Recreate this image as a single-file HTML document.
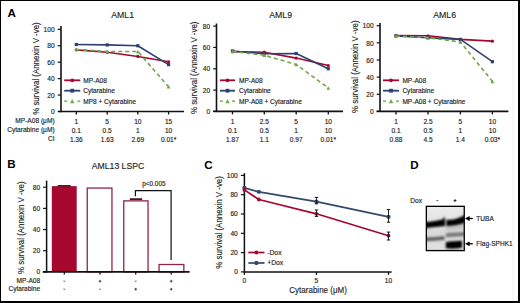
<!DOCTYPE html>
<html><head><meta charset="utf-8"><style>
html,body{margin:0;padding:0;background:#fff;}
svg{display:block;font-family:"Liberation Sans",sans-serif;}
</style></head><body>
<svg width="520" height="303" viewBox="0 0 520 303">
<rect width="520" height="303" fill="#fff"/>
<text x="7.4" y="17.1" font-size="11.6" text-anchor="start" font-weight="bold" fill="#000" >A</text>
<text x="54.6" y="122.8" font-size="6.6" text-anchor="end" font-weight="normal" fill="#1e1e1e" stroke="#1e1e1e" stroke-width="0.15" >MP-A08 (μM)</text>
<text x="54.6" y="132.0" font-size="6.6" text-anchor="end" font-weight="normal" fill="#1e1e1e" stroke="#1e1e1e" stroke-width="0.15" >Cytarabine (μM)</text>
<text x="54.6" y="141.1" font-size="6.6" text-anchor="end" font-weight="normal" fill="#1e1e1e" stroke="#1e1e1e" stroke-width="0.15" >CI</text>
<line x1="61" y1="26" x2="61" y2="112.2" stroke="#111" stroke-width="1.6" />
<line x1="57.7" y1="111.5" x2="61" y2="111.5" stroke="#111" stroke-width="1.2" />
<text x="54.6" y="114.2" font-size="6.6" text-anchor="end" font-weight="normal" fill="#1e1e1e" stroke="#1e1e1e" stroke-width="0.15" >0</text>
<line x1="57.7" y1="95.06" x2="61" y2="95.06" stroke="#111" stroke-width="1.2" />
<text x="54.6" y="97.76" font-size="6.6" text-anchor="end" font-weight="normal" fill="#1e1e1e" stroke="#1e1e1e" stroke-width="0.15" >20</text>
<line x1="57.7" y1="78.62" x2="61" y2="78.62" stroke="#111" stroke-width="1.2" />
<text x="54.6" y="81.32" font-size="6.6" text-anchor="end" font-weight="normal" fill="#1e1e1e" stroke="#1e1e1e" stroke-width="0.15" >40</text>
<line x1="57.7" y1="62.18" x2="61" y2="62.18" stroke="#111" stroke-width="1.2" />
<text x="54.6" y="64.88" font-size="6.6" text-anchor="end" font-weight="normal" fill="#1e1e1e" stroke="#1e1e1e" stroke-width="0.15" >60</text>
<line x1="57.7" y1="45.74" x2="61" y2="45.74" stroke="#111" stroke-width="1.2" />
<text x="54.6" y="48.44" font-size="6.6" text-anchor="end" font-weight="normal" fill="#1e1e1e" stroke="#1e1e1e" stroke-width="0.15" >80</text>
<line x1="57.7" y1="29.3" x2="61" y2="29.3" stroke="#111" stroke-width="1.2" />
<text x="54.6" y="32" font-size="6.6" text-anchor="end" font-weight="normal" fill="#1e1e1e" stroke="#1e1e1e" stroke-width="0.15" >100</text>
<line x1="58.3" y1="111.5" x2="184" y2="111.5" stroke="#111" stroke-width="1.6" />
<line x1="76.3" y1="111.5" x2="76.3" y2="114.5" stroke="#111" stroke-width="1.3" />
<line x1="107.2" y1="111.5" x2="107.2" y2="114.5" stroke="#111" stroke-width="1.3" />
<line x1="137.8" y1="111.5" x2="137.8" y2="114.5" stroke="#111" stroke-width="1.3" />
<line x1="168.6" y1="111.5" x2="168.6" y2="114.5" stroke="#111" stroke-width="1.3" />
<text transform="translate(122.6,17.5) scale(0.94,1)" font-size="9.3" text-anchor="middle" fill="#1e1e1e" stroke="#1e1e1e" stroke-width="0.15">AML1</text>
<text transform="translate(39.0,68.55) rotate(-90) scale(0.93,1)" font-size="8.5" text-anchor="middle" fill="#1e1e1e" stroke="#1e1e1e" stroke-width="0.15">% survival (Annexin V -ve)</text>
<polyline points="76.3,49.85 107.2,52.32 137.8,56.43 168.6,61.77" fill="none" stroke="#a6072f" stroke-width="1.6" stroke-linejoin="round"/>
<circle cx="76.3" cy="49.85" r="1.6" fill="#a6072f"/>
<circle cx="107.2" cy="52.32" r="1.6" fill="#a6072f"/>
<circle cx="137.8" cy="56.43" r="1.6" fill="#a6072f"/>
<circle cx="168.6" cy="61.77" r="1.6" fill="#a6072f"/>
<polyline points="76.3,44.51 107.2,44.92 137.8,45.74 168.6,64.65" fill="none" stroke="#2b4170" stroke-width="1.6" stroke-linejoin="round"/>
<rect x="74.7" y="42.91" width="3.2" height="3.2" fill="#2b4170"/>
<rect x="105.6" y="43.32" width="3.2" height="3.2" fill="#2b4170"/>
<rect x="136.2" y="44.14" width="3.2" height="3.2" fill="#2b4170"/>
<rect x="167.0" y="63.05" width="3.2" height="3.2" fill="#2b4170"/>
<polyline points="76.3,49.44 107.2,51.49 137.8,51.49 168.6,86.84" fill="none" stroke="#71a549" stroke-width="1.6" stroke-dasharray="4,3" stroke-linejoin="round"/>
<polygon points="74.38,51.2 78.22,51.2 76.3,47.68" fill="#71a549"/>
<polygon points="105.28,53.25 109.12,53.25 107.2,49.73" fill="#71a549"/>
<polygon points="135.88,53.25 139.72,53.25 137.8,49.73" fill="#71a549"/>
<polygon points="166.68,88.6 170.52,88.6 168.6,85.08" fill="#71a549"/>
<line x1="64.2" y1="80.3" x2="80.3" y2="80.3" stroke="#a6072f" stroke-width="1.8" />
<circle cx="72.25" cy="80.3" r="1.9" fill="#a6072f"/>
<text x="83.2" y="82.6" font-size="6.55" text-anchor="start" font-weight="normal" fill="#1e1e1e" stroke="#1e1e1e" stroke-width="0.15" >MP-A08</text>
<line x1="64.2" y1="90.7" x2="80.3" y2="90.7" stroke="#2b4170" stroke-width="1.8" />
<rect x="70.35" y="88.8" width="3.8" height="3.8" fill="#2b4170"/>
<text x="83.2" y="93.0" font-size="6.55" text-anchor="start" font-weight="normal" fill="#1e1e1e" stroke="#1e1e1e" stroke-width="0.15" >Cytarabine</text>
<line x1="64.2" y1="101.2" x2="67.2" y2="101.2" stroke="#8cbb6a" stroke-width="1.8" />
<line x1="77.3" y1="101.2" x2="80.3" y2="101.2" stroke="#8cbb6a" stroke-width="1.8" />
<polygon points="69.97,103.29 74.53,103.29 72.25,99.11" fill="#76a852"/>
<text x="83.2" y="103.5" font-size="6.55" text-anchor="start" font-weight="normal" fill="#1e1e1e" stroke="#1e1e1e" stroke-width="0.15" >MP8 + Cytarabine</text>
<text x="76.3" y="123.6" font-size="6.6" text-anchor="middle" font-weight="normal" fill="#1e1e1e" stroke="#1e1e1e" stroke-width="0.15" >1</text>
<text x="107.2" y="123.6" font-size="6.6" text-anchor="middle" font-weight="normal" fill="#1e1e1e" stroke="#1e1e1e" stroke-width="0.15" >5</text>
<text x="137.8" y="123.6" font-size="6.6" text-anchor="middle" font-weight="normal" fill="#1e1e1e" stroke="#1e1e1e" stroke-width="0.15" >10</text>
<text x="168.6" y="123.6" font-size="6.6" text-anchor="middle" font-weight="normal" fill="#1e1e1e" stroke="#1e1e1e" stroke-width="0.15" >15</text>
<text x="76.3" y="132.8" font-size="6.6" text-anchor="middle" font-weight="normal" fill="#1e1e1e" stroke="#1e1e1e" stroke-width="0.15" >0.1</text>
<text x="107.2" y="132.8" font-size="6.6" text-anchor="middle" font-weight="normal" fill="#1e1e1e" stroke="#1e1e1e" stroke-width="0.15" >0.5</text>
<text x="137.8" y="132.8" font-size="6.6" text-anchor="middle" font-weight="normal" fill="#1e1e1e" stroke="#1e1e1e" stroke-width="0.15" >1</text>
<text x="168.6" y="132.8" font-size="6.6" text-anchor="middle" font-weight="normal" fill="#1e1e1e" stroke="#1e1e1e" stroke-width="0.15" >10</text>
<text x="76.3" y="141.5" font-size="6.6" text-anchor="middle" font-weight="normal" fill="#1e1e1e" stroke="#1e1e1e" stroke-width="0.15" >1.36</text>
<text x="107.2" y="141.5" font-size="6.6" text-anchor="middle" font-weight="normal" fill="#1e1e1e" stroke="#1e1e1e" stroke-width="0.15" >1.63</text>
<text x="137.8" y="141.5" font-size="6.6" text-anchor="middle" font-weight="normal" fill="#1e1e1e" stroke="#1e1e1e" stroke-width="0.15" >2.69</text>
<text x="168.6" y="141.5" font-size="6.6" text-anchor="middle" font-weight="normal" fill="#1e1e1e" stroke="#1e1e1e" stroke-width="0.15" >0.01*</text>
<line x1="216.5" y1="23.5" x2="216.5" y2="112.1" stroke="#111" stroke-width="1.6" />
<line x1="213.2" y1="111.4" x2="216.5" y2="111.4" stroke="#111" stroke-width="1.2" />
<text x="210.1" y="114.1" font-size="6.6" text-anchor="end" font-weight="normal" fill="#1e1e1e" stroke="#1e1e1e" stroke-width="0.15" >0</text>
<line x1="213.2" y1="90.08" x2="216.5" y2="90.08" stroke="#111" stroke-width="1.2" />
<text x="210.1" y="92.78" font-size="6.6" text-anchor="end" font-weight="normal" fill="#1e1e1e" stroke="#1e1e1e" stroke-width="0.15" >20</text>
<line x1="213.2" y1="68.75" x2="216.5" y2="68.75" stroke="#111" stroke-width="1.2" />
<text x="210.1" y="71.45" font-size="6.6" text-anchor="end" font-weight="normal" fill="#1e1e1e" stroke="#1e1e1e" stroke-width="0.15" >40</text>
<line x1="213.2" y1="47.42" x2="216.5" y2="47.42" stroke="#111" stroke-width="1.2" />
<text x="210.1" y="50.12" font-size="6.6" text-anchor="end" font-weight="normal" fill="#1e1e1e" stroke="#1e1e1e" stroke-width="0.15" >60</text>
<line x1="213.2" y1="26.1" x2="216.5" y2="26.1" stroke="#111" stroke-width="1.2" />
<text x="210.1" y="28.8" font-size="6.6" text-anchor="end" font-weight="normal" fill="#1e1e1e" stroke="#1e1e1e" stroke-width="0.15" >80</text>
<line x1="213.3" y1="111.4" x2="343" y2="111.4" stroke="#111" stroke-width="1.6" />
<line x1="232.5" y1="111.4" x2="232.5" y2="114.4" stroke="#111" stroke-width="1.3" />
<line x1="264.3" y1="111.4" x2="264.3" y2="114.4" stroke="#111" stroke-width="1.3" />
<line x1="296.2" y1="111.4" x2="296.2" y2="114.4" stroke="#111" stroke-width="1.3" />
<line x1="328.3" y1="111.4" x2="328.3" y2="114.4" stroke="#111" stroke-width="1.3" />
<text transform="translate(280.6,17.5) scale(0.94,1)" font-size="9.3" text-anchor="middle" fill="#1e1e1e" stroke="#1e1e1e" stroke-width="0.15">AML9</text>
<text transform="translate(197.4,67.8) rotate(-90) scale(0.93,1)" font-size="8.5" text-anchor="middle" fill="#1e1e1e" stroke="#1e1e1e" stroke-width="0.15">% survival (Annexin V -ve)</text>
<polyline points="232.5,51.69 264.3,52.22 296.2,58.09 328.3,65.55" fill="none" stroke="#a6072f" stroke-width="1.6" stroke-linejoin="round"/>
<circle cx="232.5" cy="51.69" r="1.6" fill="#a6072f"/>
<circle cx="264.3" cy="52.22" r="1.6" fill="#a6072f"/>
<circle cx="296.2" cy="58.09" r="1.6" fill="#a6072f"/>
<circle cx="328.3" cy="65.55" r="1.6" fill="#a6072f"/>
<polyline points="232.5,50.94 264.3,53.82 296.2,53.5 328.3,68.75" fill="none" stroke="#2b4170" stroke-width="1.6" stroke-linejoin="round"/>
<rect x="230.9" y="49.34" width="3.2" height="3.2" fill="#2b4170"/>
<rect x="262.7" y="52.22" width="3.2" height="3.2" fill="#2b4170"/>
<rect x="294.6" y="51.9" width="3.2" height="3.2" fill="#2b4170"/>
<rect x="326.7" y="67.15" width="3.2" height="3.2" fill="#2b4170"/>
<polyline points="232.5,51.37 264.3,55.32 296.2,64.48 328.3,87.94" fill="none" stroke="#71a549" stroke-width="1.6" stroke-dasharray="4,3" stroke-linejoin="round"/>
<polygon points="230.58,53.13 234.42,53.13 232.5,49.61" fill="#71a549"/>
<polygon points="262.38,57.08 266.22,57.08 264.3,53.56" fill="#71a549"/>
<polygon points="294.28,66.25 298.12,66.25 296.2,62.73" fill="#71a549"/>
<polygon points="326.38,89.7 330.22,89.7 328.3,86.18" fill="#71a549"/>
<line x1="220" y1="80.3" x2="235" y2="80.3" stroke="#a6072f" stroke-width="1.8" />
<circle cx="227.5" cy="80.3" r="1.9" fill="#a6072f"/>
<text x="239" y="82.6" font-size="6.55" text-anchor="start" font-weight="normal" fill="#1e1e1e" stroke="#1e1e1e" stroke-width="0.15" >MP-A08</text>
<line x1="220" y1="90.7" x2="235" y2="90.7" stroke="#2b4170" stroke-width="1.8" />
<rect x="225.6" y="88.8" width="3.8" height="3.8" fill="#2b4170"/>
<text x="239" y="93.0" font-size="6.55" text-anchor="start" font-weight="normal" fill="#1e1e1e" stroke="#1e1e1e" stroke-width="0.15" >Cytarabine</text>
<line x1="220" y1="101.2" x2="223" y2="101.2" stroke="#8cbb6a" stroke-width="1.8" />
<line x1="232" y1="101.2" x2="235" y2="101.2" stroke="#8cbb6a" stroke-width="1.8" />
<polygon points="225.22,103.29 229.78,103.29 227.5,99.11" fill="#76a852"/>
<text x="239" y="103.5" font-size="6.55" text-anchor="start" font-weight="normal" fill="#1e1e1e" stroke="#1e1e1e" stroke-width="0.15" >MP-A08 + Cytarabine</text>
<text x="232.5" y="123.6" font-size="6.6" text-anchor="middle" font-weight="normal" fill="#1e1e1e" stroke="#1e1e1e" stroke-width="0.15" >1</text>
<text x="264.3" y="123.6" font-size="6.6" text-anchor="middle" font-weight="normal" fill="#1e1e1e" stroke="#1e1e1e" stroke-width="0.15" >2.5</text>
<text x="296.2" y="123.6" font-size="6.6" text-anchor="middle" font-weight="normal" fill="#1e1e1e" stroke="#1e1e1e" stroke-width="0.15" >5</text>
<text x="328.3" y="123.6" font-size="6.6" text-anchor="middle" font-weight="normal" fill="#1e1e1e" stroke="#1e1e1e" stroke-width="0.15" >10</text>
<text x="232.5" y="132.8" font-size="6.6" text-anchor="middle" font-weight="normal" fill="#1e1e1e" stroke="#1e1e1e" stroke-width="0.15" >0.1</text>
<text x="264.3" y="132.8" font-size="6.6" text-anchor="middle" font-weight="normal" fill="#1e1e1e" stroke="#1e1e1e" stroke-width="0.15" >0.5</text>
<text x="296.2" y="132.8" font-size="6.6" text-anchor="middle" font-weight="normal" fill="#1e1e1e" stroke="#1e1e1e" stroke-width="0.15" >1</text>
<text x="328.3" y="132.8" font-size="6.6" text-anchor="middle" font-weight="normal" fill="#1e1e1e" stroke="#1e1e1e" stroke-width="0.15" >10</text>
<text x="232.5" y="141.5" font-size="6.6" text-anchor="middle" font-weight="normal" fill="#1e1e1e" stroke="#1e1e1e" stroke-width="0.15" >1.87</text>
<text x="264.3" y="141.5" font-size="6.6" text-anchor="middle" font-weight="normal" fill="#1e1e1e" stroke="#1e1e1e" stroke-width="0.15" >1.1</text>
<text x="296.2" y="141.5" font-size="6.6" text-anchor="middle" font-weight="normal" fill="#1e1e1e" stroke="#1e1e1e" stroke-width="0.15" >0.97</text>
<text x="328.3" y="141.5" font-size="6.6" text-anchor="middle" font-weight="normal" fill="#1e1e1e" stroke="#1e1e1e" stroke-width="0.15" >0.01*</text>
<line x1="380" y1="23.0" x2="380" y2="112.1" stroke="#111" stroke-width="1.6" />
<line x1="376.7" y1="111.4" x2="380" y2="111.4" stroke="#111" stroke-width="1.2" />
<text x="373.6" y="114.1" font-size="6.6" text-anchor="end" font-weight="normal" fill="#1e1e1e" stroke="#1e1e1e" stroke-width="0.15" >0</text>
<line x1="376.7" y1="94.26" x2="380" y2="94.26" stroke="#111" stroke-width="1.2" />
<text x="373.6" y="96.96" font-size="6.6" text-anchor="end" font-weight="normal" fill="#1e1e1e" stroke="#1e1e1e" stroke-width="0.15" >20</text>
<line x1="376.7" y1="77.12" x2="380" y2="77.12" stroke="#111" stroke-width="1.2" />
<text x="373.6" y="79.82" font-size="6.6" text-anchor="end" font-weight="normal" fill="#1e1e1e" stroke="#1e1e1e" stroke-width="0.15" >40</text>
<line x1="376.7" y1="59.98" x2="380" y2="59.98" stroke="#111" stroke-width="1.2" />
<text x="373.6" y="62.68" font-size="6.6" text-anchor="end" font-weight="normal" fill="#1e1e1e" stroke="#1e1e1e" stroke-width="0.15" >60</text>
<line x1="376.7" y1="42.84" x2="380" y2="42.84" stroke="#111" stroke-width="1.2" />
<text x="373.6" y="45.54" font-size="6.6" text-anchor="end" font-weight="normal" fill="#1e1e1e" stroke="#1e1e1e" stroke-width="0.15" >80</text>
<line x1="376.7" y1="25.7" x2="380" y2="25.7" stroke="#111" stroke-width="1.2" />
<text x="373.6" y="28.4" font-size="6.6" text-anchor="end" font-weight="normal" fill="#1e1e1e" stroke="#1e1e1e" stroke-width="0.15" >100</text>
<line x1="376.6" y1="111.4" x2="508.4" y2="111.4" stroke="#111" stroke-width="1.6" />
<line x1="396.0" y1="111.4" x2="396.0" y2="114.4" stroke="#111" stroke-width="1.3" />
<line x1="428.0" y1="111.4" x2="428.0" y2="114.4" stroke="#111" stroke-width="1.3" />
<line x1="460.4" y1="111.4" x2="460.4" y2="114.4" stroke="#111" stroke-width="1.3" />
<line x1="492.4" y1="111.4" x2="492.4" y2="114.4" stroke="#111" stroke-width="1.3" />
<text transform="translate(444.6,17.5) scale(0.94,1)" font-size="9.3" text-anchor="middle" fill="#1e1e1e" stroke="#1e1e1e" stroke-width="0.15">AML6</text>
<text transform="translate(357.9,66.7) rotate(-90) scale(0.93,1)" font-size="8.5" text-anchor="middle" fill="#1e1e1e" stroke="#1e1e1e" stroke-width="0.15">% survival (Annexin V -ve)</text>
<polyline points="396.0,35.56 428.0,35.73 460.4,39.41 492.4,41.13" fill="none" stroke="#a6072f" stroke-width="1.6" stroke-linejoin="round"/>
<circle cx="396.0" cy="35.56" r="1.6" fill="#a6072f"/>
<circle cx="428.0" cy="35.73" r="1.6" fill="#a6072f"/>
<circle cx="460.4" cy="39.41" r="1.6" fill="#a6072f"/>
<circle cx="492.4" cy="41.13" r="1.6" fill="#a6072f"/>
<polyline points="396.0,35.98 428.0,37.7 460.4,39.41 492.4,61.69" fill="none" stroke="#2b4170" stroke-width="1.6" stroke-linejoin="round"/>
<rect x="394.4" y="34.38" width="3.2" height="3.2" fill="#2b4170"/>
<rect x="426.4" y="36.1" width="3.2" height="3.2" fill="#2b4170"/>
<rect x="458.8" y="37.81" width="3.2" height="3.2" fill="#2b4170"/>
<rect x="490.8" y="60.09" width="3.2" height="3.2" fill="#2b4170"/>
<polyline points="396.0,35.98 428.0,37.7 460.4,41.98 492.4,81.41" fill="none" stroke="#71a549" stroke-width="1.6" stroke-dasharray="4,3" stroke-linejoin="round"/>
<polygon points="394.08,37.74 397.92,37.74 396.0,34.22" fill="#71a549"/>
<polygon points="426.08,39.46 429.92,39.46 428.0,35.94" fill="#71a549"/>
<polygon points="458.48,43.74 462.32,43.74 460.4,40.22" fill="#71a549"/>
<polygon points="490.48,83.17 494.32,83.17 492.4,79.64" fill="#71a549"/>
<line x1="383" y1="80.3" x2="399" y2="80.3" stroke="#a6072f" stroke-width="1.8" />
<circle cx="391.0" cy="80.3" r="1.9" fill="#a6072f"/>
<text x="402.4" y="82.6" font-size="6.55" text-anchor="start" font-weight="normal" fill="#1e1e1e" stroke="#1e1e1e" stroke-width="0.15" >MP-A08</text>
<line x1="383" y1="90.7" x2="399" y2="90.7" stroke="#2b4170" stroke-width="1.8" />
<rect x="389.1" y="88.8" width="3.8" height="3.8" fill="#2b4170"/>
<text x="402.4" y="93.0" font-size="6.55" text-anchor="start" font-weight="normal" fill="#1e1e1e" stroke="#1e1e1e" stroke-width="0.15" >Cytarabine</text>
<line x1="383" y1="101.2" x2="386" y2="101.2" stroke="#8cbb6a" stroke-width="1.8" />
<line x1="396" y1="101.2" x2="399" y2="101.2" stroke="#8cbb6a" stroke-width="1.8" />
<polygon points="388.72,103.29 393.28,103.29 391.0,99.11" fill="#76a852"/>
<text x="402.4" y="103.5" font-size="6.55" text-anchor="start" font-weight="normal" fill="#1e1e1e" stroke="#1e1e1e" stroke-width="0.15" >MP-A08 + Cytarabine</text>
<text x="396.0" y="123.6" font-size="6.6" text-anchor="middle" font-weight="normal" fill="#1e1e1e" stroke="#1e1e1e" stroke-width="0.15" >1</text>
<text x="428.0" y="123.6" font-size="6.6" text-anchor="middle" font-weight="normal" fill="#1e1e1e" stroke="#1e1e1e" stroke-width="0.15" >2.5</text>
<text x="460.4" y="123.6" font-size="6.6" text-anchor="middle" font-weight="normal" fill="#1e1e1e" stroke="#1e1e1e" stroke-width="0.15" >5</text>
<text x="492.4" y="123.6" font-size="6.6" text-anchor="middle" font-weight="normal" fill="#1e1e1e" stroke="#1e1e1e" stroke-width="0.15" >10</text>
<text x="396.0" y="132.8" font-size="6.6" text-anchor="middle" font-weight="normal" fill="#1e1e1e" stroke="#1e1e1e" stroke-width="0.15" >0.1</text>
<text x="428.0" y="132.8" font-size="6.6" text-anchor="middle" font-weight="normal" fill="#1e1e1e" stroke="#1e1e1e" stroke-width="0.15" >0.5</text>
<text x="460.4" y="132.8" font-size="6.6" text-anchor="middle" font-weight="normal" fill="#1e1e1e" stroke="#1e1e1e" stroke-width="0.15" >1</text>
<text x="492.4" y="132.8" font-size="6.6" text-anchor="middle" font-weight="normal" fill="#1e1e1e" stroke="#1e1e1e" stroke-width="0.15" >10</text>
<text x="396.0" y="141.5" font-size="6.6" text-anchor="middle" font-weight="normal" fill="#1e1e1e" stroke="#1e1e1e" stroke-width="0.15" >0.88</text>
<text x="428.0" y="141.5" font-size="6.6" text-anchor="middle" font-weight="normal" fill="#1e1e1e" stroke="#1e1e1e" stroke-width="0.15" >4.5</text>
<text x="460.4" y="141.5" font-size="6.6" text-anchor="middle" font-weight="normal" fill="#1e1e1e" stroke="#1e1e1e" stroke-width="0.15" >1.4</text>
<text x="492.4" y="141.5" font-size="6.6" text-anchor="middle" font-weight="normal" fill="#1e1e1e" stroke="#1e1e1e" stroke-width="0.15" >0.03*</text>
<text x="7.3" y="168.4" font-size="11.6" text-anchor="start" font-weight="bold" fill="#000" >B</text>
<text transform="translate(118,169.2) scale(0.94,1)" font-size="9.2" text-anchor="middle" fill="#1e1e1e" stroke="#1e1e1e" stroke-width="0.15">AML13 LSPC</text>
<line x1="46.6" y1="180.6" x2="46.6" y2="272.6" stroke="#111" stroke-width="1.5" />
<line x1="43.1" y1="271.9" x2="46.6" y2="271.9" stroke="#111" stroke-width="1.2" />
<text x="40.2" y="274.2" font-size="6.6" text-anchor="end" font-weight="normal" fill="#1e1e1e" stroke="#1e1e1e" stroke-width="0.15" >0</text>
<line x1="43.1" y1="250.72" x2="46.6" y2="250.72" stroke="#111" stroke-width="1.2" />
<text x="40.2" y="253.02" font-size="6.6" text-anchor="end" font-weight="normal" fill="#1e1e1e" stroke="#1e1e1e" stroke-width="0.15" >20</text>
<line x1="43.1" y1="229.55" x2="46.6" y2="229.55" stroke="#111" stroke-width="1.2" />
<text x="40.2" y="231.85" font-size="6.6" text-anchor="end" font-weight="normal" fill="#1e1e1e" stroke="#1e1e1e" stroke-width="0.15" >40</text>
<line x1="43.1" y1="208.38" x2="46.6" y2="208.38" stroke="#111" stroke-width="1.2" />
<text x="40.2" y="210.68" font-size="6.6" text-anchor="end" font-weight="normal" fill="#1e1e1e" stroke="#1e1e1e" stroke-width="0.15" >60</text>
<line x1="43.1" y1="187.2" x2="46.6" y2="187.2" stroke="#111" stroke-width="1.2" />
<text x="40.2" y="189.5" font-size="6.6" text-anchor="end" font-weight="normal" fill="#1e1e1e" stroke="#1e1e1e" stroke-width="0.15" >80</text>
<text transform="translate(24.3,227.7) rotate(-90) scale(0.93,1)" font-size="8.5" text-anchor="middle" fill="#1e1e1e" stroke="#1e1e1e" stroke-width="0.15">% survival (Annexin V -ve)</text>
<rect x="51.8" y="186.14" width="24.90" height="85.76" fill="#a6072f"/>
<rect x="87.25" y="188.06" width="24.70" height="83.84" fill="#fff" stroke="#8e2546" stroke-width="1.3"/>
<rect x="123.75" y="200.87" width="24.30" height="71.03" fill="#fff" stroke="#8e2546" stroke-width="1.3"/>
<rect x="159.05" y="264.50" width="24.80" height="7.40" fill="#fff" stroke="#8e2546" stroke-width="1.3"/>
<line x1="42.8" y1="271.9" x2="189.6" y2="271.9" stroke="#111" stroke-width="1.6" />
<line x1="57.7" y1="185.8" x2="70.6" y2="185.8" stroke="#3a0010" stroke-width="1.4" />
<line x1="129.8" y1="199.1" x2="142.2" y2="199.1" stroke="#2a0008" stroke-width="1.6" />
<line x1="64.3" y1="271.9" x2="64.3" y2="274.5" stroke="#111" stroke-width="1.3" />
<line x1="100.0" y1="271.9" x2="100.0" y2="274.5" stroke="#111" stroke-width="1.3" />
<line x1="135.7" y1="271.9" x2="135.7" y2="274.5" stroke="#111" stroke-width="1.3" />
<line x1="171.2" y1="271.9" x2="171.2" y2="274.5" stroke="#111" stroke-width="1.3" />
<polyline points="135.4,196.3 135.4,190.6 171.1,190.6 171.1,259.9" fill="none" stroke="#111" stroke-width="1.2"/>
<text x="153.9" y="186.0" font-size="6.4" text-anchor="middle" font-weight="normal" fill="#1e1e1e" stroke="#1e1e1e" stroke-width="0.15" >p&lt;0.005</text>
<text x="40.1" y="283.0" font-size="6.55" text-anchor="end" font-weight="normal" fill="#1e1e1e" stroke="#1e1e1e" stroke-width="0.15" >MP-A08</text>
<text x="40.1" y="290.8" font-size="6.55" text-anchor="end" font-weight="normal" fill="#1e1e1e" stroke="#1e1e1e" stroke-width="0.15" >Cytarabine</text>
<line x1="63.4" y1="281.2" x2="65.2" y2="281.2" stroke="#555" stroke-width="0.9" />
<line x1="63.4" y1="289.2" x2="65.2" y2="289.2" stroke="#555" stroke-width="0.9" />
<line x1="98.7" y1="281.2" x2="101.3" y2="281.2" stroke="#333" stroke-width="0.9" />
<line x1="100.0" y1="279.9" x2="100.0" y2="282.5" stroke="#333" stroke-width="0.9" />
<line x1="99.1" y1="289.2" x2="100.9" y2="289.2" stroke="#555" stroke-width="0.9" />
<line x1="134.8" y1="281.2" x2="136.6" y2="281.2" stroke="#555" stroke-width="0.9" />
<line x1="134.4" y1="289.2" x2="137.0" y2="289.2" stroke="#333" stroke-width="0.9" />
<line x1="135.7" y1="287.9" x2="135.7" y2="290.5" stroke="#333" stroke-width="0.9" />
<line x1="169.9" y1="281.2" x2="172.5" y2="281.2" stroke="#333" stroke-width="0.9" />
<line x1="171.2" y1="279.9" x2="171.2" y2="282.5" stroke="#333" stroke-width="0.9" />
<line x1="169.9" y1="289.2" x2="172.5" y2="289.2" stroke="#333" stroke-width="0.9" />
<line x1="171.2" y1="287.9" x2="171.2" y2="290.5" stroke="#333" stroke-width="0.9" />
<text x="204.3" y="168.8" font-size="11.6" text-anchor="start" font-weight="bold" fill="#000" >C</text>
<line x1="244.4" y1="173.2" x2="244.4" y2="272.6" stroke="#111" stroke-width="1.5" />
<line x1="240.9" y1="271.9" x2="244.4" y2="271.9" stroke="#111" stroke-width="1.2" />
<text x="237.8" y="274.2" font-size="6.6" text-anchor="end" font-weight="normal" fill="#1e1e1e" stroke="#1e1e1e" stroke-width="0.15" >0</text>
<line x1="240.9" y1="252.6" x2="244.4" y2="252.6" stroke="#111" stroke-width="1.2" />
<text x="237.8" y="254.9" font-size="6.6" text-anchor="end" font-weight="normal" fill="#1e1e1e" stroke="#1e1e1e" stroke-width="0.15" >20</text>
<line x1="240.9" y1="233.3" x2="244.4" y2="233.3" stroke="#111" stroke-width="1.2" />
<text x="237.8" y="235.6" font-size="6.6" text-anchor="end" font-weight="normal" fill="#1e1e1e" stroke="#1e1e1e" stroke-width="0.15" >40</text>
<line x1="240.9" y1="214.0" x2="244.4" y2="214.0" stroke="#111" stroke-width="1.2" />
<text x="237.8" y="216.3" font-size="6.6" text-anchor="end" font-weight="normal" fill="#1e1e1e" stroke="#1e1e1e" stroke-width="0.15" >60</text>
<line x1="240.9" y1="194.7" x2="244.4" y2="194.7" stroke="#111" stroke-width="1.2" />
<text x="237.8" y="197.0" font-size="6.6" text-anchor="end" font-weight="normal" fill="#1e1e1e" stroke="#1e1e1e" stroke-width="0.15" >80</text>
<line x1="240.9" y1="175.4" x2="244.4" y2="175.4" stroke="#111" stroke-width="1.2" />
<text x="237.8" y="177.7" font-size="6.6" text-anchor="end" font-weight="normal" fill="#1e1e1e" stroke="#1e1e1e" stroke-width="0.15" >100</text>
<text transform="translate(221.8,222.4) rotate(-90) scale(0.93,1)" font-size="8.5" text-anchor="middle" fill="#1e1e1e" stroke="#1e1e1e" stroke-width="0.15">% survival (Annexin V -ve)</text>
<line x1="244.4" y1="271.9" x2="391.6" y2="271.9" stroke="#111" stroke-width="1.5" />
<line x1="244.4" y1="271.9" x2="244.4" y2="274.9" stroke="#111" stroke-width="1.3" />
<text x="244.4" y="283.0" font-size="6.6" text-anchor="middle" font-weight="normal" fill="#1e1e1e" stroke="#1e1e1e" stroke-width="0.15" >0</text>
<line x1="316.45" y1="271.9" x2="316.45" y2="274.9" stroke="#111" stroke-width="1.3" />
<text x="316.45" y="283.0" font-size="6.6" text-anchor="middle" font-weight="normal" fill="#1e1e1e" stroke="#1e1e1e" stroke-width="0.15" >5</text>
<line x1="388.5" y1="271.9" x2="388.5" y2="274.9" stroke="#111" stroke-width="1.3" />
<text x="388.5" y="283.0" font-size="6.6" text-anchor="middle" font-weight="normal" fill="#1e1e1e" stroke="#1e1e1e" stroke-width="0.15" >10</text>
<text transform="translate(318.1,292.6) scale(0.91,1)" font-size="8.8" text-anchor="middle" fill="#1e1e1e" stroke="#1e1e1e" stroke-width="0.15">Cytarabine (μM)</text>
<polyline points="244.4,187.94 258.81,191.81 316.45,201.65 388.5,216.89" fill="none" stroke="#33496f" stroke-width="1.7" stroke-linejoin="round"/>
<rect x="242.5" y="186.04" width="3.8" height="3.8" rx="1.14" fill="#33496f"/>
<rect x="256.91" y="189.91" width="3.8" height="3.8" rx="1.14" fill="#33496f"/>
<rect x="314.55" y="199.75" width="3.8" height="3.8" rx="1.14" fill="#33496f"/>
<rect x="386.6" y="214.99" width="3.8" height="3.8" rx="1.14" fill="#33496f"/>
<polyline points="244.4,189.88 258.81,199.52 316.45,213.81 388.5,235.71" fill="none" stroke="#a6072f" stroke-width="1.7" stroke-linejoin="round"/>
<circle cx="244.4" cy="189.88" r="1.9" fill="#a6072f"/>
<circle cx="258.81" cy="199.52" r="1.9" fill="#a6072f"/>
<circle cx="316.45" cy="213.81" r="1.9" fill="#a6072f"/>
<circle cx="388.5" cy="235.71" r="1.9" fill="#a6072f"/>
<line x1="316.45" y1="197.4" x2="316.45" y2="203.8" stroke="#111" stroke-width="0.9" />
<line x1="314.75" y1="197.4" x2="318.15" y2="197.4" stroke="#111" stroke-width="1.0" />
<line x1="314.75" y1="203.8" x2="318.15" y2="203.8" stroke="#111" stroke-width="1.0" />
<line x1="316.45" y1="210.0" x2="316.45" y2="216.4" stroke="#111" stroke-width="0.9" />
<line x1="314.75" y1="210.0" x2="318.15" y2="210.0" stroke="#111" stroke-width="1.0" />
<line x1="314.75" y1="216.4" x2="318.15" y2="216.4" stroke="#111" stroke-width="1.0" />
<line x1="388.5" y1="209.6" x2="388.5" y2="222.2" stroke="#111" stroke-width="0.9" />
<line x1="386.8" y1="209.6" x2="390.2" y2="209.6" stroke="#111" stroke-width="1.0" />
<line x1="386.8" y1="222.2" x2="390.2" y2="222.2" stroke="#111" stroke-width="1.0" />
<line x1="388.5" y1="232.1" x2="388.5" y2="240.0" stroke="#111" stroke-width="0.9" />
<line x1="386.8" y1="232.1" x2="390.2" y2="232.1" stroke="#111" stroke-width="1.0" />
<line x1="386.8" y1="240.0" x2="390.2" y2="240.0" stroke="#111" stroke-width="1.0" />
<line x1="248.3" y1="252.5" x2="264.5" y2="252.5" stroke="#a6072f" stroke-width="1.7" />
<circle cx="256.4" cy="252.5" r="1.9" fill="#a6072f"/>
<text x="267.2" y="254.8" font-size="6.8" text-anchor="start" font-weight="normal" fill="#1e1e1e" stroke="#1e1e1e" stroke-width="0.15" >-Dox</text>
<line x1="248.3" y1="263.0" x2="264.5" y2="263.0" stroke="#33496f" stroke-width="1.7" />
<rect x="254.5" y="261.1" width="3.8" height="3.8" rx="1.14" fill="#33496f"/>
<text x="267.2" y="265.3" font-size="6.8" text-anchor="start" font-weight="normal" fill="#1e1e1e" stroke="#1e1e1e" stroke-width="0.15" >+Dox</text>
<text x="410.2" y="168.7" font-size="11.6" text-anchor="start" font-weight="bold" fill="#000" >D</text>
<text x="410.2" y="202.8" font-size="6.7" text-anchor="start" font-weight="normal" fill="#1e1e1e" stroke="#1e1e1e" stroke-width="0.15" >Dox</text>
<line x1="436.4" y1="200.6" x2="438.4" y2="200.6" stroke="#444" stroke-width="0.9" />
<line x1="453.6" y1="200.6" x2="456.4" y2="200.6" stroke="#222" stroke-width="1.0" />
<line x1="455.0" y1="199.2" x2="455.0" y2="202.0" stroke="#222" stroke-width="1.0" />
<defs>
<filter id="bl" x="-20%" y="-50%" width="140%" height="200%"><feGaussianBlur stdDeviation="1.0"/></filter>
<filter id="bl2" x="-20%" y="-50%" width="140%" height="200%"><feGaussianBlur stdDeviation="1.1"/></filter>
<clipPath id="bc"><rect x="426.4" y="206.4" width="38" height="44.2"/></clipPath>
<linearGradient id="bg" x1="0" y1="0" x2="0" y2="1">
<stop offset="0" stop-color="#ececec"/><stop offset="0.35" stop-color="#e2e2e2"/><stop offset="0.6" stop-color="#d8d8d8"/><stop offset="1" stop-color="#e2e2e2"/>
</linearGradient>
</defs>
<rect x="426" y="205.6" width="39" height="46" fill="url(#bg)"/>
<g clip-path="url(#bc)">
<g filter="url(#bl2)">
<path d="M445.5,224 C452,225 458,223.5 465,220.5 L465,229 C458,230 452,230.5 445.5,230 Z" fill="#c4c4c4"/>
<path d="M425,237.4 C432,237.4 438,236.6 444.5,236.0 L444.5,240.0 C438,240.4 432,241.0 425,241.3 Z" fill="#626262"/>
<path d="M446,233.0 C452,232.8 458,232.4 465,231.8 L465,236.2 C458,236.6 452,237.0 446,237.2 Z" fill="#7a7a7a"/>
</g>
<g filter="url(#bl)">
<path d="M425,222.0 C432,221.6 438,220.6 442.6,219.4 L444.2,216.6 L445.0,219.0 L445.0,226.0 C438,226.6 432,227.4 425,228.2 Z" fill="#000"/>
<path d="M446.4,219.6 C452,220.4 458,219.2 465,214.8 L465,222.8 C458,225.0 452,226.0 446.4,226.0 Z" fill="#000"/>
<path d="M445.8,242.2 C450,240.9 456,241.3 462.0,240.8 L462.0,247.8 C456,248.7 450,249.0 445.8,248.3 Z" fill="#000"/>
</g>
</g>
<rect x="426.35" y="206.35" width="37.9" height="44.2" fill="none" stroke="#000" stroke-width="1.3"/>
<polygon points="465.0,218.5 469.6,216.1 469.6,220.9" fill="#000"/>
<line x1="468" y1="218.5" x2="472.8" y2="218.5" stroke="#000" stroke-width="1.3" />
<text x="476.3" y="220.8" font-size="6.55" text-anchor="start" font-weight="normal" fill="#1e1e1e" stroke="#1e1e1e" stroke-width="0.15" >TUBA</text>
<polygon points="465.0,243.8 469.6,241.4 469.6,246.2" fill="#000"/>
<line x1="468" y1="243.8" x2="472.8" y2="243.8" stroke="#000" stroke-width="1.3" />
<text x="476.3" y="246.1" font-size="6.55" text-anchor="start" font-weight="normal" fill="#1e1e1e" stroke="#1e1e1e" stroke-width="0.15" >Flag-SPHK1</text>
<rect x="512.6" y="1" width="0.9" height="300" fill="#f1f1f1"/>
<rect x="0.5" y="0.5" width="518" height="301" fill="none" stroke="#000" stroke-width="1"/>
<rect x="518" y="0" width="2" height="303" fill="#000"/>
<rect x="0" y="301" width="520" height="2" fill="#000"/>
</svg>
</body></html>
